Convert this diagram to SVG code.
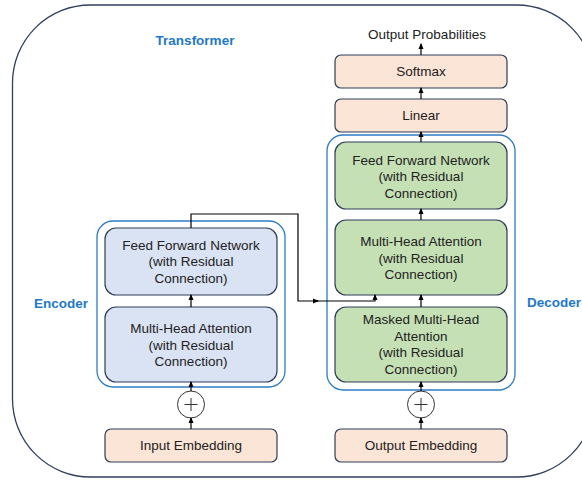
<svg xmlns="http://www.w3.org/2000/svg" width="582" height="481" viewBox="0 0 582 481">
<defs>
<marker id="ah" markerUnits="userSpaceOnUse" markerWidth="6" markerHeight="6" viewBox="0 0 6 6" refX="5" refY="3" orient="auto">
<path d="M0,0.5 L6,3 L0,5.5 Z" fill="#000"/>
</marker>
</defs>
<style>
text{font-family:"Liberation Sans",Arial,sans-serif;font-size:13.5px;fill:#222;text-anchor:middle}
.lbl{font-weight:bold;fill:#1f78c8}
.blue{fill:#dae3f3;stroke:#2f3d58;stroke-width:1.2}
.green{fill:#c5e0b4;stroke:#2f3d58;stroke-width:1.2}
.peach{fill:#fbe5d6;stroke:#2f3d58;stroke-width:1.2}
.cont{fill:none;stroke:#2e7cc4;stroke-width:1.3}
.plus{fill:#fff;stroke:#333;stroke-width:1}
.conn{fill:none;stroke:#000;stroke-width:1.2;marker-end:url(#ah)}
</style>
<rect width="582" height="481" fill="#fff"/>
<g id="transformer">
<rect x="12.5" y="5" width="582" height="472" rx="78" ry="78" fill="none" stroke="#2f3f60" stroke-width="1.3"/>
<text class="lbl" x="195" y="45">Transformer</text>
</g>
<g id="encoder">
<rect class="cont" x="97" y="221" width="188" height="166" rx="16"/>
<text class="lbl" x="61" y="308">Encoder</text>
</g>
<g id="decoder">
<rect class="cont" x="327" y="135" width="188" height="255" rx="16"/>
<text class="lbl" x="554" y="307">Decoder</text>
</g>
<g id="enc-ffn">
<rect class="blue" x="105" y="228" width="172" height="67" rx="11"/>
<text x="191" y="249.5">Feed Forward Network</text>
<text x="191" y="266">(with Residual</text>
<text x="191" y="282.5">Connection)</text>
</g>
<g id="enc-mha">
<rect class="blue" x="105" y="307" width="172" height="75" rx="11"/>
<text x="191" y="333">Multi-Head Attention</text>
<text x="191" y="349.5">(with Residual</text>
<text x="191" y="366">Connection)</text>
</g>
<g id="enc-add">
<circle class="plus" cx="191" cy="404.5" r="13.5"/>
<path d="M184.5,404.5H197.5M191,398V411" stroke="#333" stroke-width="1" fill="none"/>
</g>
<g id="input-embedding">
<rect class="peach" x="105" y="429" width="172" height="33" rx="6"/>
<text x="191" y="450">Input Embedding</text>
</g>
<g id="output-probabilities">
<text x="427" y="39">Output Probabilities</text>
</g>
<g id="softmax">
<rect class="peach" x="335" y="55" width="172" height="33" rx="6"/>
<text x="421" y="76">Softmax</text>
</g>
<g id="linear">
<rect class="peach" x="335" y="99" width="172" height="33" rx="6"/>
<text x="421" y="120">Linear</text>
</g>
<g id="dec-ffn">
<rect class="green" x="335" y="142" width="172" height="67" rx="11"/>
<text x="421" y="164.5">Feed Forward Network</text>
<text x="421" y="181">(with Residual</text>
<text x="421" y="197.5">Connection)</text>
</g>
<g id="dec-mha">
<rect class="green" x="335" y="220" width="172" height="75" rx="11"/>
<text x="421" y="246">Multi-Head Attention</text>
<text x="421" y="262.5">(with Residual</text>
<text x="421" y="279">Connection)</text>
</g>
<g id="dec-masked-mha">
<rect class="green" x="335" y="307" width="172" height="75" rx="11"/>
<text x="421" y="324">Masked Multi-Head</text>
<text x="421" y="340.5">Attention</text>
<text x="421" y="357">(with Residual</text>
<text x="421" y="373.5">Connection)</text>
</g>
<g id="dec-add">
<circle class="plus" cx="421" cy="404.5" r="13.5"/>
<path d="M414.5,404.5H427.5M421,398V411" stroke="#333" stroke-width="1" fill="none"/>
</g>
<g id="output-embedding">
<rect class="peach" x="335" y="429" width="172" height="33" rx="6"/>
<text x="421" y="450">Output Embedding</text>
</g>
<g id="connectors">
<path class="conn" d="M191,429V418"/>
<path class="conn" d="M191,391V382"/>
<path class="conn" d="M191,307V295"/>
<path class="conn" d="M191,228V214H298V301H318"/>
<path class="conn" d="M316,301H375V295"/>
<path class="conn" d="M421,429V418"/>
<path class="conn" d="M421,391V382"/>
<path class="conn" d="M421,307V295"/>
<path class="conn" d="M421,220V209"/>
<path class="conn" d="M421,142V132"/>
<path class="conn" d="M421,99V88"/>
<path class="conn" d="M421,55V44"/>
</g>
</svg>
